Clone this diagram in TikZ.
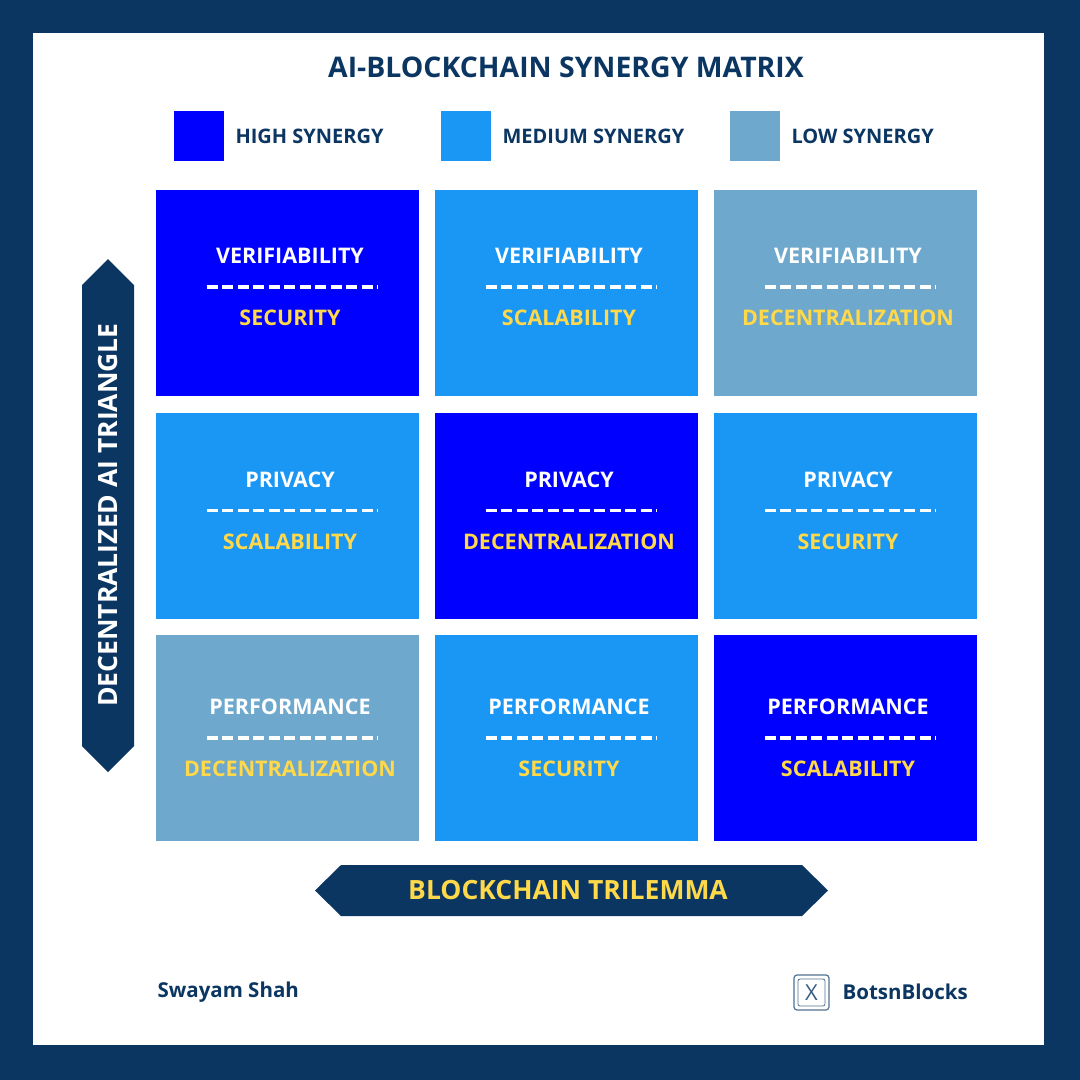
\documentclass[tikz,border=0pt]{standalone}
\usepackage{fontspec}
\setmainfont{Open Sans}
\usetikzlibrary{calc}
\definecolor{navy}{HTML}{0B3662}
\definecolor{hi}{HTML}{0000FF}
\definecolor{med}{HTML}{1A96F5}
\definecolor{lo}{HTML}{6EA8CC}
\definecolor{gold}{HTML}{FFD94A}
\begin{document}
\begin{tikzpicture}[x=1pt,y=-1pt,
 cell/.style={draw=none,minimum width=263pt,minimum height=206pt,inner sep=0pt},
 top/.style={text=white,font=\bfseries\fontsize{21.5}{24}\selectfont},
 bot/.style={text=gold,font=\bfseries\fontsize{21.5}{24}\selectfont},
 sep/.style={white,line width=3.4pt,dash pattern=on 11pt off 4.5pt},
 leg/.style={text=navy,font=\bfseries\fontsize{20}{23}\selectfont,anchor=west},
 arr/.style={text=white,font=\bfseries\fontsize{26.5}{30}\selectfont}]
\fill[navy] (0,0) rectangle (1080,1080);
\fill[white] (33,33) rectangle (1044,1045);
\node[text=navy,font=\bfseries\fontsize{28.4}{33}\selectfont] (title) at (566,67) {AI-BLOCKCHAIN SYNERGY MATRIX};
\fill[hi] (174,111) rectangle (224,161); \node[leg] (l1) at (232,136) {HIGH SYNERGY};
\fill[med] (441,111) rectangle (491,161); \node[leg] (l2) at (499,136) {MEDIUM SYNERGY};
\fill[lo] (730,111) rectangle (780,161); \node[leg] (l3) at (788,136) {LOW SYNERGY};
\foreach \r/\y in {1/293,2/515.5,3/738}{
 \foreach \c/\x in {1/287.5,2/566.5,3/845.5}{
  \coordinate (c\r\c) at (\x,\y);
 }}
\newcommand\mycell[5]{%
 \node[cell,fill=#2] (n#1) at (c#1) {};
 \node[top] (t#1) at ($(c#1)+(2.5,#5)$) {#3};
 \draw[sep] ($(c#1)+(-81,#5+31)$) -- ($(c#1)+(90,#5+31)$);
 \node[bot] (b#1) at ($(c#1)+(2.5,#5+62)$) {#4};}
\mycell{11}{hi}{VERIFIABILITY}{SECURITY}{-37}
\mycell{12}{med}{VERIFIABILITY}{SCALABILITY}{-37}
\mycell{13}{lo}{VERIFIABILITY}{DECENTRALIZATION}{-37}
\mycell{21}{med}{PRIVACY}{SCALABILITY}{-36}
\mycell{22}{hi}{PRIVACY}{DECENTRALIZATION}{-36}
\mycell{23}{med}{PRIVACY}{SECURITY}{-36}
\mycell{31}{lo}{PERFORMANCE}{DECENTRALIZATION}{-31}
\mycell{32}{med}{PERFORMANCE}{SECURITY}{-31}
\mycell{33}{hi}{PERFORMANCE}{SCALABILITY}{-31}
% vertical arrow
\fill[navy] (108,259) -- (134,285) -- (134,746) -- (108,772) -- (82,746) -- (82,285) -- cycle;
\node[arr,rotate=90] (va) at (108,515) {DECENTRALIZED AI TRIANGLE};
% horizontal arrow
\fill[navy] (315,890.5) -- (341,865) -- (802,865) -- (828,890.5) -- (802,916) -- (341,916) -- cycle;
\node[arr,text=gold] (ha) at (568,890) {BLOCKCHAIN TRILEMMA};
% footer
\node[text=navy,font=\bfseries\fontsize{20.5}{23}\selectfont,anchor=west] (auth) at (154,992) {Swayam Shah};
\draw[navy!70,line width=1.2pt,rounded corners=3pt] (794,975) rectangle (829,1010);
\draw[navy!70,line width=0.8pt,rounded corners=2pt] (798,979) rectangle (825,1006);
\node[text=navy!80,font=\fontsize{22}{24}\selectfont] (xl) at (811.5,992.5) {X};
\node[text=navy,font=\bfseries\fontsize{20.5}{23}\selectfont,anchor=west] (bb) at (839,992) {BotsnBlocks};
\end{tikzpicture}
\end{document}
